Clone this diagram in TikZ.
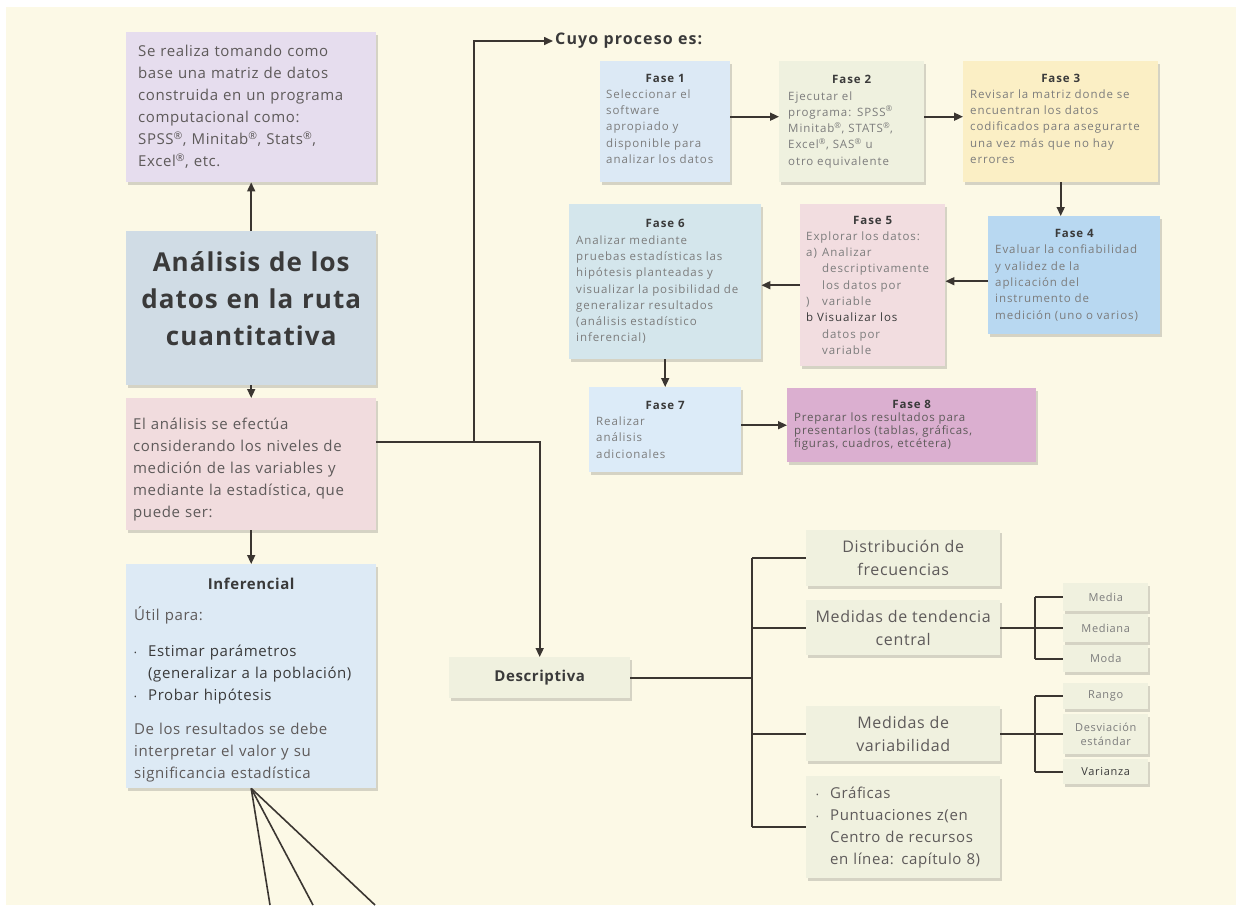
\documentclass[tikz,border=0pt]{standalone}
\usepackage{fontspec}
\setmainfont{Open Sans}[LetterSpace=4]
\usetikzlibrary{arrows.meta,shadows,calc}
\definecolor{cream}{HTML}{FCF9E6}
\definecolor{cPur}{HTML}{E6DDEE}
\definecolor{cTit}{HTML}{D0DCE5}
\definecolor{cPink}{HTML}{F1DCDE}
\definecolor{cInf}{HTML}{DDEAF5}
\definecolor{cDesc}{HTML}{F0F1DF}
\definecolor{cFa}{HTML}{DCE9F5}
\definecolor{cFb}{HTML}{EFF1DF}
\definecolor{cFc}{HTML}{FBEFC5}
\definecolor{cFd}{HTML}{B8D8F1}
\definecolor{cFe}{HTML}{F2DDE0}
\definecolor{cFf}{HTML}{D4E6EC}
\definecolor{cFg}{HTML}{DCEBF8}
\definecolor{cFh}{HTML}{DBAFD0}
\definecolor{cTxt}{HTML}{5E5A5A}
\definecolor{cDark}{HTML}{3A3A3A}
\definecolor{cGray}{HTML}{7C7C7C}
\definecolor{cLine}{HTML}{3B3631}
\newcommand\regm{\textsuperscript{®}}
\newcommand\fasehead[1]{{\centering\textbf{\color{cDark}#1}\par}}
\newcommand\bul{\makebox[14pt][l]{\raisebox{1pt}{\fontsize{7}{7}\selectfont\textbullet}}}
\tikzset{
  sz/.style 2 args={minimum width=#1pt,minimum height=#2pt},
  bx/.style={rectangle, anchor=north west, inner ysep=3pt,
    drop shadow={shadow xshift=2pt, shadow yshift=-3pt, opacity=0.22, fill=black!70}},
  fase/.style={bx, align=left, inner xsep=7pt, text=cGray, font=\fontsize{11.5}{16.3}\selectfont\addfontfeature{LetterSpace=8}},
  dbx/.style={bx, fill=cDesc, align=center, text=cTxt, font=\fontsize{16}{23}\selectfont},
  sbx/.style={bx, fill=cDesc, align=center, text=cGray, text width=79pt, inner xsep=3pt, font=\fontsize{11}{13.5}\selectfont\addfontfeature{LetterSpace=6}},
  ln/.style={draw=cLine, line width=1.6pt},
  ar/.style={ln, -{Triangle[length=9pt,width=8pt]}},
}
\begin{document}
\begin{tikzpicture}[x=1pt,y=-1pt]
\useasboundingbox (0,0) rectangle (1236,905);
\fill[cream] (6,7) rectangle (1236,905);

% left column
\node[bx, fill=cPur, sz={250}{150}, inner xsep=12pt, text width=226pt, align=left, text=cTxt, font=\fontsize{15}{22}\selectfont] (pur) at (126,32)
 {Se realiza tomando como\\ base una matriz de datos\\ construida en un programa\\ computacional como:\\ SPSS\regm, Minitab\regm, Stats\regm,\\ Excel\regm, etc.};
\node[bx, fill=cTit, sz={250}{154}, text width=238pt, inner xsep=6pt, align=center, text=cDark, font=\fontsize{26}{37}\selectfont\bfseries] (tit) at (126,231)
 {Análisis de los\\ datos en la ruta\\ cuantitativa\par\vspace{20pt}};
\node[bx, fill=cPink, sz={250}{132}, inner xsep=7pt, text width=236pt, align=left, text=cTxt, font=\fontsize{15}{22}\selectfont] (pink) at (126,398)
 {El análisis se efectúa\\ considerando los niveles de\\ medición de las variables y\\ mediante la estadística, que\\ puede ser:\par\vspace{-10pt}};
\node[bx, fill=cInf, sz={250}{224}, inner xsep=8pt, text width=234pt, align=left, text=cTxt, font=\fontsize{15}{22}\selectfont] (inf) at (126,564)
 {{\centering\textbf{\color{cDark}Inferencial}\par}\vspace{9pt}%
  Útil para:\par\vspace{14pt}%
  {\color{cDark}\bul Estimar parámetros\\ \hspace*{14pt}(generalizar a la población)\\
  \bul Probar hipótesis\par}\vspace{12pt}%
  De los resultados se debe\\ interpretar el valor y su\\ significancia estadística\par\vspace{-7pt}};
\node[bx, fill=cDesc, sz={181}{41}, text=cDark, font=\fontsize{15}{17}\selectfont\bfseries] (desc) at (449,657) {Descriptiva};

\node[anchor=west, inner sep=2pt, text=cDark, font=\fontsize{16}{18}\selectfont\bfseries\addfontfeature{LetterSpace=7}] (cuyo) at (553,41) {Cuyo proceso es:};

% phases
\node[fase, fill=cFa, sz={130}{121}, text width=118pt, inner xsep=6pt] (f1) at (600,61)
 {\fasehead{Fase 1}Seleccionar el\\ software\\ apropiado y\\ disponible para\\ analizar los datos\par\vspace{6pt}};
\node[fase, fill=cFb, sz={141}{121}, text width=127pt, inner xsep=9pt] (f2) at (779,61)
 {\fasehead{Fase 2}Ejecutar el\\ programa: SPSS\regm\\ Minitab\regm, STATS\regm,\\ Excel\regm, SAS\regm{} u\\ otro equivalente};
\node[fase, fill=cFc, sz={195}{121}, text width=181pt] (f3) at (963,61)
 {\fasehead{Fase 3}Revisar la matriz donde se\\ encuentran los datos\\ codificados para asegurarte\\ una vez más que no hay\\ errores\par\vspace{6pt}};
\node[fase, fill=cFd, sz={172}{118}, text width=158pt] (f4) at (988,216)
 {\fasehead{Fase 4}Evaluar la confiabilidad\\ y validez de la\\ aplicación del\\ instrumento de\\ medición (uno o varios)};
\node[fase, fill=cFe, sz={145}{162}, text width=133pt, inner xsep=6pt] (f5) at (800,204)
 {\fasehead{Fase 5}Explorar los datos:\\ \makebox[16pt][l]{a)}Analizar\\ \hspace*{16pt}descriptivamente\\ \hspace*{16pt}los datos por\\ \makebox[16pt][l]{)}variable\\ {\color{cDark}b Visualizar los}\\ \hspace*{16pt}datos por\\ \hspace*{16pt}variable};
\node[fase, fill=cFf, sz={192}{155}, text width=178pt] (f6) at (569,204)
 {\fasehead{Fase 6}Analizar mediante\\ pruebas estadísticas las\\ hipótesis planteadas y\\ visualizar la posibilidad de\\ generalizar resultados\\ (análisis estadístico\\ inferencial)};
\node[fase, fill=cFg, sz={152}{85}, text width=138pt] (f7) at (589,387)
 {\fasehead{Fase 7}Realizar\\ análisis\\ adicionales};
\node[fase, fill=cFh, sz={249}{74}, text width=235pt, text=cTxt, font=\fontsize{11.5}{13}\selectfont\addfontfeature{LetterSpace=7}] (f8) at (787,388)
 {\fasehead{Fase 8}Preparar los resultados para\\ presentarlos (tablas, gráficas,\\ figuras, cuadros, etcétera)};

% descriptive branches
\node[dbx, sz={194}{56}] (dist) at (806,530) {Distribución de\\ frecuencias};
\node[dbx, sz={194}{55}] (mtc) at (806,600) {Medidas de tendencia\\ central};
\node[dbx, sz={194}{55}] (mv) at (806,706) {Medidas de\\ variabilidad};
\node[dbx, sz={194}{102}, align=left, text width=180pt, inner xsep=7pt, font=\fontsize{15}{22}\selectfont] (graf) at (806,776)
 {\hspace*{3pt}\bul Gráficas\\ \hspace*{3pt}\bul Puntuaciones z(en\\ \hspace*{17pt}Centro de recursos\\ \hspace*{17pt}en línea: capítulo 8)};

\node[sbx, sz={85}{28}] (media) at (1063,583) {Media};
\node[sbx, sz={85}{28}] (mediana) at (1063,614) {Mediana};
\node[sbx, sz={85}{27}] (moda) at (1063,645) {Moda};
\node[sbx, sz={85}{26}] (rango) at (1063,683) {Rango};
\node[sbx, sz={85}{40}] (desv) at (1063,714) {Desviación\\ estándar};
\node[sbx, sz={85}{25}, text=cDark] (vari) at (1063,759) {Varianza};

% connectors
\draw[ar] (tit.north) -- (pur.south);
\draw[ar] (tit.south) -- (pink.north);
\draw[ar] (pink.south) -- (inf.north);
\coordinate (j1) at (474,442);
\draw[ar] ([yshift=-44pt]pink.north east) -| (desc.north);
\draw[ar] (j1) |- (cuyo.west);

\draw[ar] ([yshift=5pt]f1.east) -- ([yshift=5pt]f2.west);
\draw[ar] ([yshift=5pt]f2.east) -- ([yshift=5pt]f3.west);
\draw[ar] (f3.south) -- (f3.south |- f4.north);
\draw[ar] ([yshift=-6pt]f4.west) -- ([yshift=-6pt]f4.west -| f5.east);
\draw[ar] (f5.west) -- (f5.west -| f6.east);
\draw[ar] (f6.south) -- (f6.south |- f7.north);
\draw[ar] (f7.east |- f8.west) -- (f8.west);

\coordinate (b1) at (752,0);
\draw[ln] (desc.east) -- (desc.east -| b1);
\draw[ln] (b1 |- dist.west) -- (b1 |- graf.west);
\draw[ln] (b1 |- dist.west) -- (dist.west);
\draw[ln] (b1 |- mtc.west) -- (mtc.west);
\draw[ln] (b1 |- mv.west) -- (mv.west);
\draw[ln] (b1 |- graf.west) -- (graf.west);

\coordinate (b2) at (1035,0);
\draw[ln] (mtc.east) -- (mtc.east -| b2);
\draw[ln] (b2 |- media.west) -- (b2 |- moda.west);
\draw[ln] (b2 |- media.west) -- (media.west);
\draw[ln] (b2 |- mediana.west) -- (mediana.west);
\draw[ln] (b2 |- moda.west) -- (moda.west);
\draw[ln] (mv.east) -- (mv.east -| b2);
\draw[ln] (b2 |- rango.west) -- (b2 |- vari.west);
\draw[ln] (b2 |- rango.west) -- (rango.west);
\draw[ln] (b2 |- desv.west) -- (desv.west);
\draw[ln] (b2 |- vari.west) -- (vari.west);

\coordinate (e1) at (270,905);
\coordinate (e2) at (313,905);
\coordinate (e3) at (375,905);
\draw[ln] (inf.south) -- (e1);
\draw[ln] (inf.south) -- (e2);
\draw[ln] (inf.south) -- (e3);
\end{tikzpicture}
\end{document}
